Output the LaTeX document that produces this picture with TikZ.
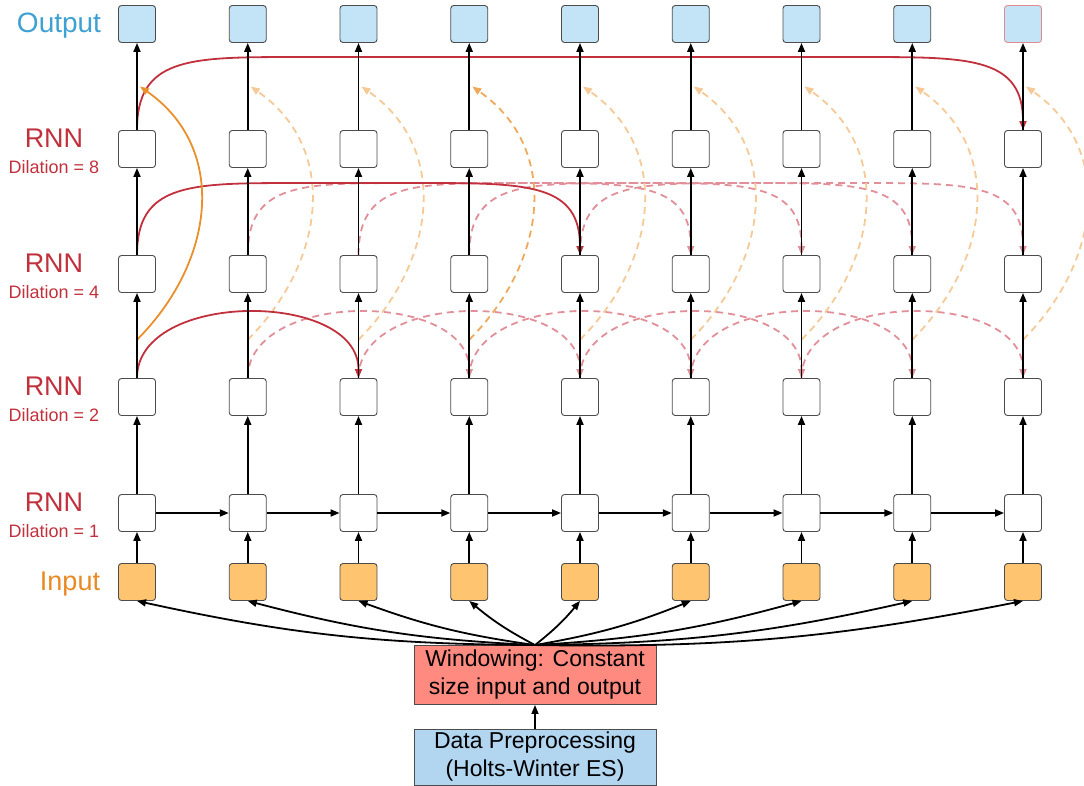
\documentclass[tikz,border=0pt]{standalone}
\usepackage{fontspec}
\setmainfont{Liberation Sans}
\usetikzlibrary{arrows.meta,calc,positioning}
\definecolor{outblue}{RGB}{194,228,246}
\definecolor{inorange}{RGB}{255,196,112}
\definecolor{winred}{RGB}{255,138,128}
\definecolor{preblue}{RGB}{178,214,240}
\definecolor{rnnred}{RGB}{193,49,61}
\definecolor{fadedred}{RGB}{225,143,153}
\definecolor{skiporange}{RGB}{233,143,44}
\definecolor{fadedorange}{RGB}{246,201,152}
\definecolor{labelblue}{RGB}{62,160,211}
\definecolor{labelorange}{RGB}{232,138,36}
\tikzset{
    cell/.style = {
        draw = black!70,
        line width = 0.9pt,
        rounded corners = 3pt,
        minimum size = 37pt,
        inner sep = 0pt,
        fill = white,
        },
    out cell/.style = {
        cell,
        fill = outblue,
        },
    last out/.style = {
        draw = rnnred!55,
        },
    in cell/.style = {
        cell,
        fill = inorange,
        },
    stage/.style = {
        draw = black!70,
        line width = 0.9pt,
        minimum width = 242pt,
        minimum height = 59pt,
        align = center,
        font = \fontsize{23}{28}\selectfont,
        },
    flow/.style = {
        -{Triangle[length=9pt,width=7pt]},
        line width = 1.8pt,
        },
    dil/.style = {
        flow,
        draw = rnnred,
        },
    dil faded/.style = {
        flow,
        draw = fadedred,
        dash pattern = on 7pt off 5pt,
        },
    skip/.style = {
        flow,
        draw = skiporange,
        },
    skip faded/.style = {
        flow,
        draw = fadedorange,
        dash pattern = on 7pt off 5pt,
        },
    rnn label/.style = {
        text = rnnred,
        inner sep = 0pt,
        anchor = base,
        font = \fontsize{27}{30}\selectfont,
        },
    dil label/.style = {
        rnn label,
        font = \fontsize{18}{22}\selectfont,
        },
}
\begin{document}
\begin{tikzpicture}[x=1pt,y=1pt]
    \useasboundingbox (0,0) rectangle (1084,-785);

    % cells, one column per time step
    \foreach \i in {0,...,8} {
        \pgfmathsetmacro{\x}{137+110.75*\i}
        \ifnum\i=8 \def\outstyle{last out}\else\def\outstyle{}\fi
        \node[out cell, \outstyle] (o-\i) at (\x,-24) {};
        \node[cell] (r8-\i) at (\x,-149) {};
        \node[cell] (r4-\i) at (\x,-274) {};
        \node[cell] (r2-\i) at (\x,-397) {};
        \node[cell] (r1-\i) at (\x,-513) {};
        \node[in cell] (in-\i) at (\x,-582) {};
    }

    % row labels
    \node[rnn label, text=labelblue, font=\fontsize{28}{30}\selectfont] (lbl-out) at (59,-32) {Output};
    \foreach \r/\d in {r8/8, r4/4, r2/2, r1/1} {
        \node[rnn label] (lbl-\r) at ($(\r-0)+(-83,2)$) {RNN};
        \node[dil label] (dil-\r) at ($(\r-0)+(-83,-24)$) {Dilation = \d};
    }
    \node[rnn label, text=labelorange] (lbl-in) at (70,-590) {Input};

    \node[stage, fill=winred] (win) at (535,-675) {Windowing: Constant\\size input and output};
    \node[stage, fill=preblue, minimum height=56pt] (pre) at (535,-757) {Data Preprocessing\\(Holts-Winter ES)};

    % dashed links first
    \foreach \i in {1,...,6} {
        \pgfmathtruncatemacro{\j}{\i+2}
        \draw[dil faded] (r2-\i.north) to[out=90,in=90,distance=88pt] (r2-\j.north);
    }
    \foreach \i in {1,...,4} {
        \pgfmathtruncatemacro{\j}{\i+4}
        \draw[dil faded] (r4-\i.north) .. controls +(0,70) and +(-100,0) .. ($(r4-\i.north)+(150,72)$)
            -- ($(r4-\j.north)+(-150,72)$) .. controls +(100,0) and +(0,70) .. (r4-\j.north);
    }
    \foreach \i in {0,...,8} {
        \coordinate (s-\i) at ($(r2-\i.north)!0.45!(r4-\i.south)$);
        \coordinate (e-\i) at ($(r8-\i.north)!0.5!(o-\i.south)+(3,0)$);
    }
    \foreach \i in {1,...,8} {
        \ifnum\i=3 \def\skipcol{fadedorange!45!skiporange}\else\def\skipcol{fadedorange}\fi
        \draw[skip faded, draw=\skipcol] (s-\i) to[out=45,in=-35,looseness=1.1] (e-\i);
    }

    % solid links
    \draw[dil] (r2-0.north) to[out=90,in=90,distance=88pt] (r2-2.north);
    \draw[dil] (r4-0.north) .. controls +(0,70) and +(-100,0) .. ($(r4-0.north)+(150,72)$)
        -- ($(r4-4.north)+(-150,72)$) .. controls +(100,0) and +(0,70) .. (r4-4.north);
    \draw[dil] (r8-0.north) .. controls +(0,71) and +(-100,0) .. ($(r8-0.north)+(150,73)$)
        -- ($(r8-8.north)+(-150,73)$) .. controls +(100,0) and +(0,71) .. (r8-8.north);
    \draw[skip] (s-0) to[out=45,in=-35,looseness=1.1] (e-0);

    % forward flow
    \foreach \i in {0,...,8} {
        \draw[flow] (in-\i) -- (r1-\i);
        \draw[flow] (r1-\i) -- (r2-\i);
        \draw[flow] (r2-\i) -- (r4-\i);
        \draw[flow] (r4-\i) -- (r8-\i);
        \draw[flow] (r8-\i) -- (o-\i);
    }
    \foreach \i in {0,...,7} {
        \pgfmathtruncatemacro{\j}{\i+1}
        \draw[flow] (r1-\i) -- (r1-\j);
    }

    % windowing fans out to the inputs
    \foreach \i in {0,...,3}
        \draw[flow] (win.north) to[bend left=6] (in-\i.south);
    \foreach \i in {4,...,8}
        \draw[flow] (win.north) to[bend right=6] (in-\i.south);
    \draw[flow, line width=1.4pt] (pre) -- (win);
\end{tikzpicture}
\end{document}
